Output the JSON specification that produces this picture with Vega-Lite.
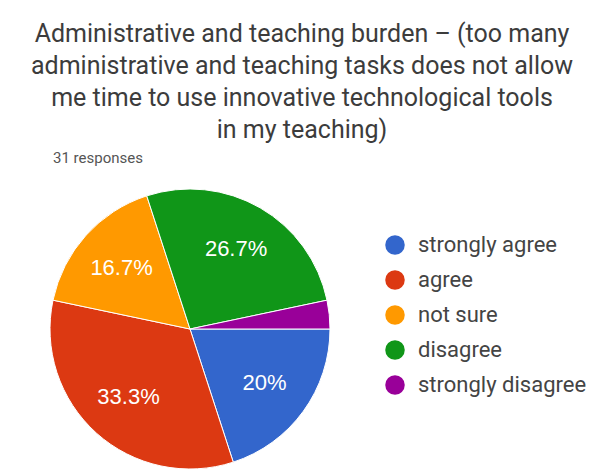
{
  "$schema": "https://vega.github.io/schema/vega-lite/v6.json",
  "padding": {"left": 30, "top": 22, "right": 5, "bottom": 0},
  "background": "white",
  "title": {
    "text": ["Administrative and teaching burden – (too many", "administrative and teaching tasks does not allow", "me time to use innovative technological tools", "in my teaching)"],
    "anchor": "middle",
    "frame": "bounds",
    "dx": -38,
    "font": "Roboto",
    "fontSize": 25,
    "fontWeight": "normal",
    "color": "#3c3c3c",
    "lineHeight": 32,
    "offset": 8
  },
  "vconcat": [
    {
      "width": 282,
      "height": 280,
      "title": {
        "text": "31 responses",
        "anchor": "start",
        "dx": 5,
        "font": "Roboto",
        "fontSize": 15,
        "fontWeight": "normal",
        "color": "#555555",
        "offset": 21
      },
      "data": {
        "values": [
          {"answer": "strongly agree", "pct": 20, "label": "20%", "idx": 1},
          {"answer": "agree", "pct": 33.3, "label": "33.3%", "idx": 2},
          {"answer": "not sure", "pct": 16.7, "label": "16.7%", "idx": 3},
          {"answer": "disagree", "pct": 26.7, "label": "26.7%", "idx": 4},
          {"answer": "strongly disagree", "pct": 3.3, "label": "", "idx": 5}
        ]
      },
      "encoding": {
        "theta": {"field": "pct", "type": "quantitative", "stack": true, "scale": {"range": [1.5708, 7.854]}},
        "order": {"field": "idx", "type": "quantitative"},
        "color": {
          "field": "answer",
          "type": "nominal",
          "sort": null,
          "scale": {
            "domain": ["strongly agree", "agree", "not sure", "disagree", "strongly disagree"],
            "range": ["#3366cc", "#dc3912", "#ff9900", "#109618", "#990099"]
          },
          "legend": {
            "title": null,
            "orient": "right",
            "offset": 7,
            "padding": 45,
            "symbolType": "circle",
            "symbolSize": 380,
            "symbolStrokeWidth": 0,
            "symbolOpacity": 1,
            "labelFont": "Roboto",
            "labelFontSize": 22,
            "labelColor": "#444444",
            "labelOffset": 12,
            "rowPadding": 13,
            "labelLimit": 300
          }
        }
      },
      "layer": [
        {"mark": {"type": "arc", "outerRadius": 140, "stroke": "white", "strokeWidth": 1}},
        {
          "mark": {"type": "text", "radius": 92, "font": "Liberation Sans", "fontSize": 22, "fill": "white"},
          "encoding": {"text": {"field": "label", "type": "nominal"}, "color": {"value": "white"}}
        }
      ]
    }
  ],
  "config": {"view": {"stroke": null}}
}
